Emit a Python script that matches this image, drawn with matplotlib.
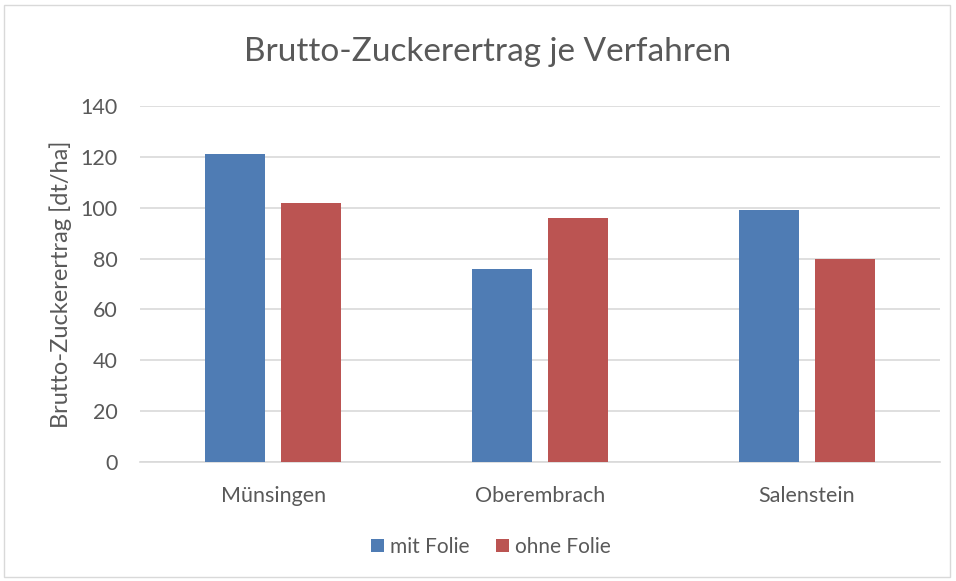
import matplotlib
matplotlib.use("Agg")
import numpy as np
import matplotlib.pyplot as plt
from matplotlib.patches import Rectangle

orte = ["Münsingen", "Oberembrach", "Salenstein"]
mit_folie = [121, 76, 99]
ohne_folie = [102, 96, 80]
yticks = [0, 20, 40, 60, 80, 100, 120, 140]

plt.rcParams['font.family'] = ['Lato', 'DejaVu Sans']
grau = "#595959"

fig = plt.figure(figsize=(9.56, 5.81), dpi=100)
ax = fig.add_axes([140/956, 1 - 462/581, 800/956, 356/581])

x = np.arange(len(orte))
w = 0.225
ax.bar(x - 0.1425, mit_folie, w, color="#4f7cb4", label="mit Folie", zorder=3)
ax.bar(x + 0.1425, ohne_folie, w, color="#bb5452", label="ohne Folie", zorder=3)

ax.set_xlim(-0.5, 2.5)
ax.set_ylim(0, 140)
ax.set_yticks(yticks)
ax.set_xticks(x)
ax.set_xticklabels(orte)
ax.tick_params(length=0, colors=grau, labelsize=15.5)
ax.tick_params(axis="x", pad=17)
ax.tick_params(axis="y", pad=16)
ax.yaxis.grid(True, color="#d9d9d9", linewidth=1.2, zorder=0)
for s in ["top", "right", "left"]:
    ax.spines[s].set_visible(False)
ax.spines["bottom"].set_color("#d9d9d9")
ax.spines["bottom"].set_linewidth(1.2)

ax.set_ylabel("Brutto-Zuckerertrag [dt/ha]", color=grau, fontsize=17)
ax.yaxis.set_label_coords(-(140 - 72) / 800, 0.5)
fig.text(488/956, 1 - 52/581, "Brutto-Zuckerertrag je Verfahren", ha="center", va="center",
         color=grau, fontsize=24)

leg = ax.legend(loc="center", bbox_to_anchor=((491 - 140) / 800, -0.238), ncol=2, frameon=False,
                fontsize=15, handlelength=0.6, handleheight=0.6, handletextpad=0.3,
                columnspacing=1.3)
for t in leg.get_texts():
    t.set_color(grau)

fig.patches.append(Rectangle((4/956, 4/581), 946/956, 572/581, transform=fig.transFigure,
                             fill=False, edgecolor="#d9d9d9", linewidth=1))

fig.savefig("out.png", dpi=100)
